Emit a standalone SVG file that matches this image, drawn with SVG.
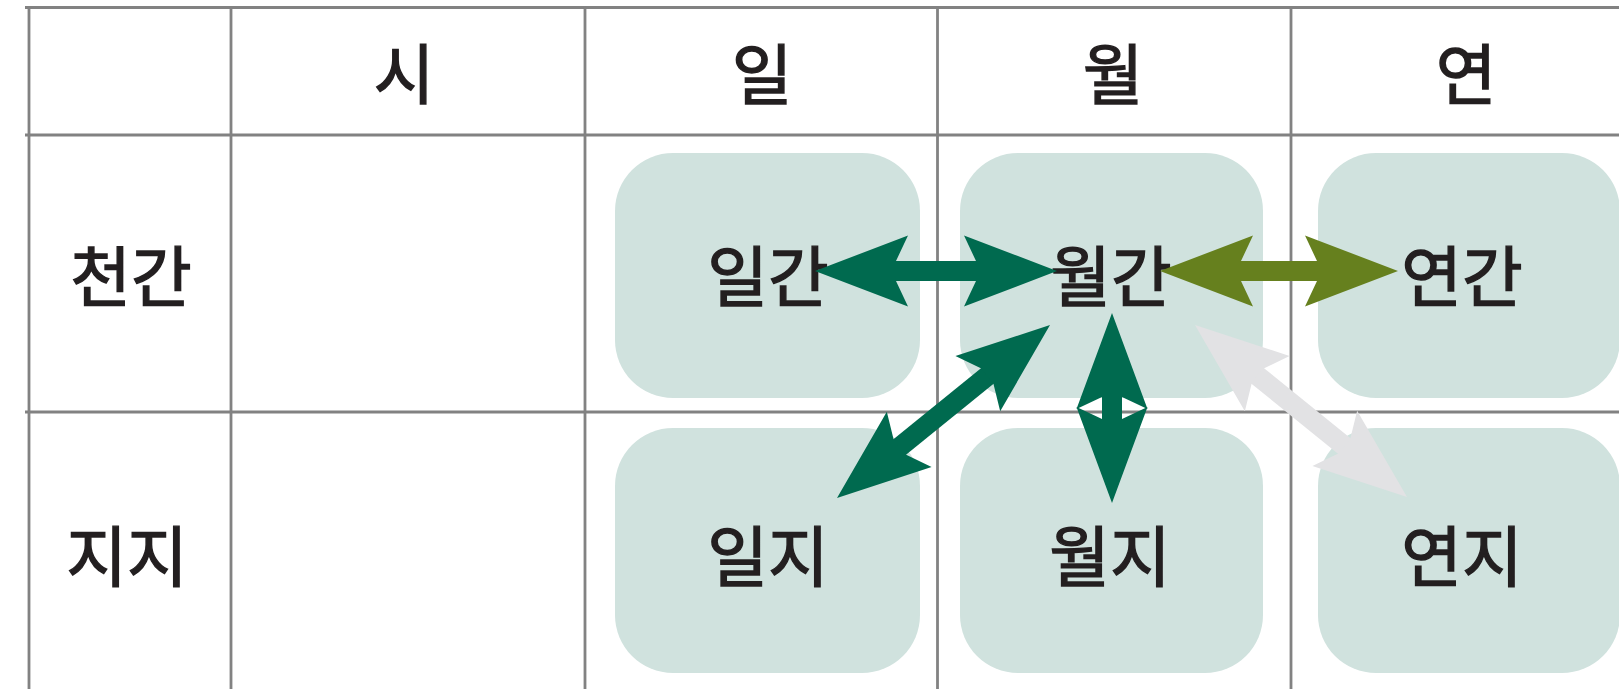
<svg xmlns="http://www.w3.org/2000/svg" xmlns:xlink="http://www.w3.org/1999/xlink" width="1619" height="689" viewBox="0 0 1619 689">
<style>
.grid line{stroke:#828282;stroke-width:2.8}
.box{fill:#d0e2de}
.t{font-family:"Noto Sans CJK KR","Noto Sans CJK SC",sans-serif;font-size:66px;fill:#231f20;stroke:#231f20;stroke-width:1.4;text-anchor:middle}
.green{fill:#006a4f}
.olive{fill:#66801e}
.gray{fill:#e2e2e4}
</style>
<defs>
<path id="head" d="M0,0 L93,-35.5 L81,-10 L81,10 L93,35.5 Z"/>
</defs>
<rect width="1619" height="689" fill="#ffffff"/>
<g class="grid">
<line x1="25" y1="7.5" x2="1619" y2="7.5"/>
<line x1="25" y1="135" x2="1619" y2="135"/>
<line x1="25" y1="412" x2="1619" y2="412"/>
<line x1="29" y1="7" x2="29" y2="689"/>
<line x1="231" y1="7" x2="231" y2="689"/>
<line x1="585" y1="7" x2="585" y2="689"/>
<line x1="937.5" y1="7" x2="937.5" y2="689"/>
<line x1="1291" y1="7" x2="1291" y2="689"/>
</g>
<g id="headers">
<text class="t" x="404" y="99">시</text>
<text class="t" x="762" y="99">일</text>
<text class="t" x="1113" y="99">월</text>
<text class="t" x="1466" y="99">연</text>
<text class="t" x="131" y="301">천간</text>
<text class="t" x="127" y="581">지지</text>
</g>
<g id="n-ilgan"><rect class="box" x="615" y="153" width="305" height="245" rx="58"/><text class="t" x="768" y="301">일간</text></g>
<g id="n-wolgan"><rect class="box" x="960" y="153" width="303" height="245" rx="58"/><text class="t" x="1111" y="301">월간</text></g>
<g id="n-yeongan"><rect class="box" x="1318" y="153" width="302" height="245" rx="58"/><text class="t" x="1462" y="301">연간</text></g>
<g id="n-ilji"><rect class="box" x="615" y="428" width="305" height="245" rx="58"/><text class="t" x="768" y="581">일지</text></g>
<g id="n-wolji"><rect class="box" x="960" y="428" width="303" height="245" rx="58"/><text class="t" x="1110" y="581">월지</text></g>
<g id="n-yeonji"><rect class="box" x="1318" y="428" width="302" height="245" rx="58"/><text class="t" x="1462" y="581">연지</text></g>
<g id="connectors">
<g class="green" transform="translate(815,271)">
<use xlink:href="#head"/><rect x="80" y="-10" width="82" height="20"/><use xlink:href="#head" transform="translate(242,0) scale(-1,1)"/>
</g>
<g class="olive" transform="translate(1160,271)">
<use xlink:href="#head"/><rect x="80" y="-10" width="78" height="20"/><use xlink:href="#head" transform="translate(238,0) scale(-1,1)"/>
</g>
<g class="green" transform="translate(837,498) rotate(-39.08)">
<use xlink:href="#head"/><rect x="80" y="-10" width="114.4" height="20"/><use xlink:href="#head" transform="translate(274.4,0) scale(-1,1)"/>
</g>
<g class="gray" transform="translate(1195,325) rotate(39.05)">
<use xlink:href="#head"/><rect x="80" y="-10" width="113" height="20"/><use xlink:href="#head" transform="translate(273,0) scale(-1,1)"/>
</g>
<g class="green" transform="translate(1112,313) rotate(90)">
<path d="M0,0 L96,-35.5 L84,-10 L84,10 L96,35.5 Z"/>
<path d="M190,0 L94,-35.5 L106,-10 L106,10 L94,35.5 Z"/>
<rect x="83" y="-10" width="24" height="20"/>
</g>
</g>
</svg>
